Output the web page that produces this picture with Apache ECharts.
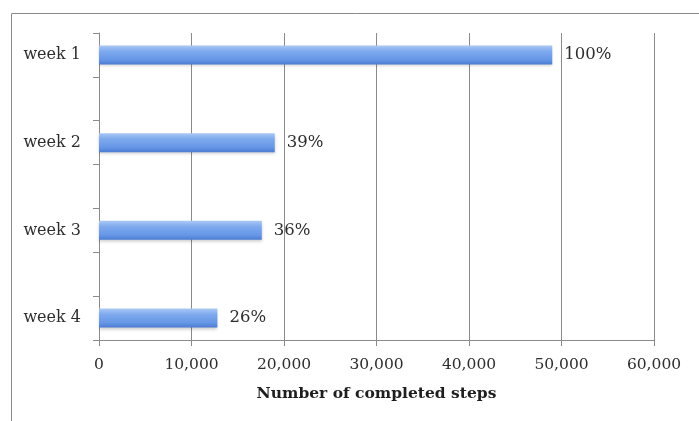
<!DOCTYPE html>
<html>
<head>
<meta charset="utf-8">
<script src="https://cdn.jsdelivr.net/npm/echarts@6/dist/echarts.min.js"></script>
<style>
html,body{margin:0;padding:0;background:#fff;}
#chart{width:699px;height:421px;}
</style>
</head>
<body>
<div id="chart"></div>
<script>
var categories = ['week 1', '', 'week 2', '', 'week 3', '', 'week 4'];
var steps = [49000, null, 19000, null, 17600, null, 12800];
var pctLabels = ['100%', '', '39%', '', '36%', '', '26%'];
var xTicks = [0, 10000, 20000, 30000, 40000, 50000, 60000];

var chart = echarts.init(document.getElementById('chart'));
var fontFam = 'DejaVu Serif';
var barColor = new echarts.graphic.LinearGradient(0, 0, 0, 1, [
  {offset: 0, color: '#aac8f4'},
  {offset: 0.3, color: '#7eaaee'},
  {offset: 0.75, color: '#6696e6'},
  {offset: 1, color: '#4a7cd2'}
]);
chart.setOption({
  animation: false,
  backgroundColor: '#fff',
  graphic: [{
    type: 'rect',
    shape: {x: 11.5, y: 13.5, width: 900, height: 700},
    style: {fill: 'none', stroke: '#8a8a8a', lineWidth: 1}
  }],
  grid: {left: 99, right: 45, top: 33, bottom: 81},
  xAxis: {
    type: 'value',
    min: xTicks[0],
    max: xTicks[xTicks.length - 1],
    interval: xTicks[1] - xTicks[0],
    name: 'Number of completed steps',
    nameLocation: 'middle',
    nameGap: 46,
    nameTextStyle: {fontFamily: fontFam, fontWeight: 'bold', fontSize: 15.5, color: '#1e1e1e'},
    axisLine: {show: true, lineStyle: {color: '#8a8a8a', width: 1}},
    axisTick: {show: true, length: 6, lineStyle: {color: '#8a8a8a'}},
    axisLabel: {
      margin: 17,
      fontFamily: fontFam, fontSize: 15.5, color: '#2e2e2e',
      formatter: function (v) { return v.toLocaleString('en-US'); }
    },
    splitLine: {show: true, lineStyle: {color: '#8a8a8a', width: 1}}
  },
  yAxis: {
    type: 'category',
    data: categories,
    inverse: true,
    axisLine: {show: true, lineStyle: {color: '#8a8a8a', width: 1}},
    axisTick: {show: true, length: 6, interval: 0, lineStyle: {color: '#8a8a8a'}},
    axisLabel: {interval: 0, margin: 18, fontFamily: fontFam, fontSize: 16, color: '#2e2e2e'},
    splitLine: {show: false}
  },
  series: [{
    type: 'bar',
    barWidth: 19,
    data: steps.map(function (v, i) {
      return {value: v, label: {formatter: pctLabels[i]}};
    }),
    itemStyle: {
      color: barColor,
      shadowColor: 'rgba(0,0,0,0.2)',
      shadowBlur: 3,
      shadowOffsetY: 2
    },
    label: {
      show: true,
      position: 'right',
      distance: 12,
      fontFamily: fontFam,
      fontSize: 16.5,
      color: '#2e2e2e'
    }
  }]
});
</script>
</body>
</html>
